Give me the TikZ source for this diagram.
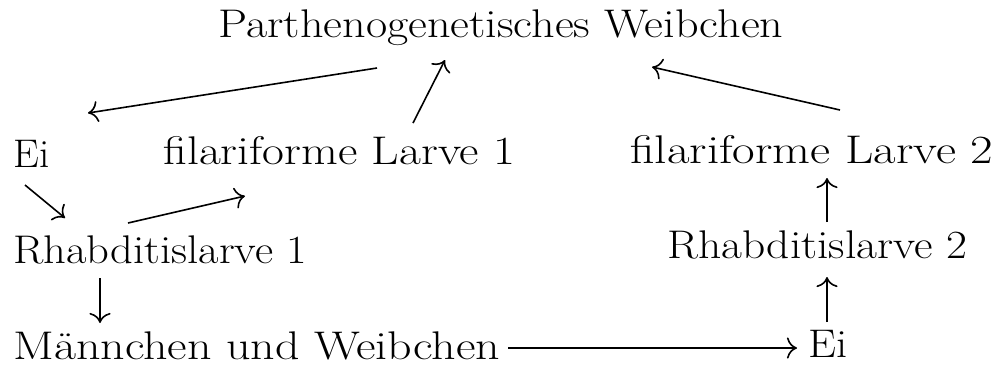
\documentclass[tikz,border=0pt]{standalone}
\usepackage{graphicx}
\usepackage{tikz}
\usetikzlibrary{arrows.meta}
\tikzstyle{arrow} = [line width=0.8pt,->,>={To[scale=1.5]}]
\tikzstyle{stage} = [inner sep=0pt,anchor=base west,font=\fontsize{20}{24}\selectfont]
% Text auf die Breite im Bild bringen (nur waagerecht)
\newcommand{\stagetext}[2]{\resizebox{#1}{\height}{#2}}

\begin{document}
\begin{tikzpicture}[x=0.5pt,y=-0.5pt]
	\useasboundingbox (0,0) rectangle (996,366);
	% Stadien:
	% Werden an ihren Grundlinien gesetzt
	\node [stage] (pw) at (218,37) {\stagetext{282.5pt}{Parthenogenetisches Weibchen}};
	\node [stage] (eia) at (13,167) {\stagetext{18pt}{Ei}};
	\node [stage] (fla) at (163,164) {\stagetext{176pt}{filariforme Larve 1}};
	\node [stage] (flb) at (630,163) {\stagetext{181.5pt}{filariforme Larve 2}};
	\node [stage] (rha) at (13,263) {\stagetext{147pt}{Rhabditislarve 1}};
	\node [stage] (rhb) at (667,258) {\stagetext{150pt}{Rhabditislarve 2}};
	\node [stage] (mw) at (13,359) {\stagetext{243.5pt}{Männchen und Weibchen}};
	\node [stage] (eib) at (808,357) {\stagetext{19.5pt}{Ei}};
	
	% Pfeile:
	% Gehen von kurzen Abständen der Grundlinien aus
	\draw[arrow] ([shift={(159,31)}]pw.base west) -- ([shift={(75,-54)}]eia.base west);
	\draw[arrow] ([shift={(250,-41)}]fla.base west) -- ([shift={(227,23)}]pw.base west);
	\draw[arrow] ([shift={(12,18)}]eia.base west) -- ([shift={(52,-45)}]rha.base west);
	\draw[arrow] ([shift={(115,-40)}]rha.base west) -- ([shift={(82,32)}]fla.base west);
	\draw[arrow] ([shift={(87,15)}]rha.base west) -- ([shift={(87,-36)}]mw.base west);
	\draw[arrow] ([shift={(495,-11)}]mw.base west) -- ([shift={(-11,-9)}]eib.base west);
	\draw[arrow] ([shift={(19,-35)}]eib.base west) -- ([shift={(160,19)}]rhb.base west);
	\draw[arrow] ([shift={(160,-36)}]rhb.base west) -- ([shift={(197,15)}]flb.base west);
	\draw[arrow] ([shift={(210,-53)}]flb.base west) -- ([shift={(434,30)}]pw.base west);
\end{tikzpicture}
\end{document}
